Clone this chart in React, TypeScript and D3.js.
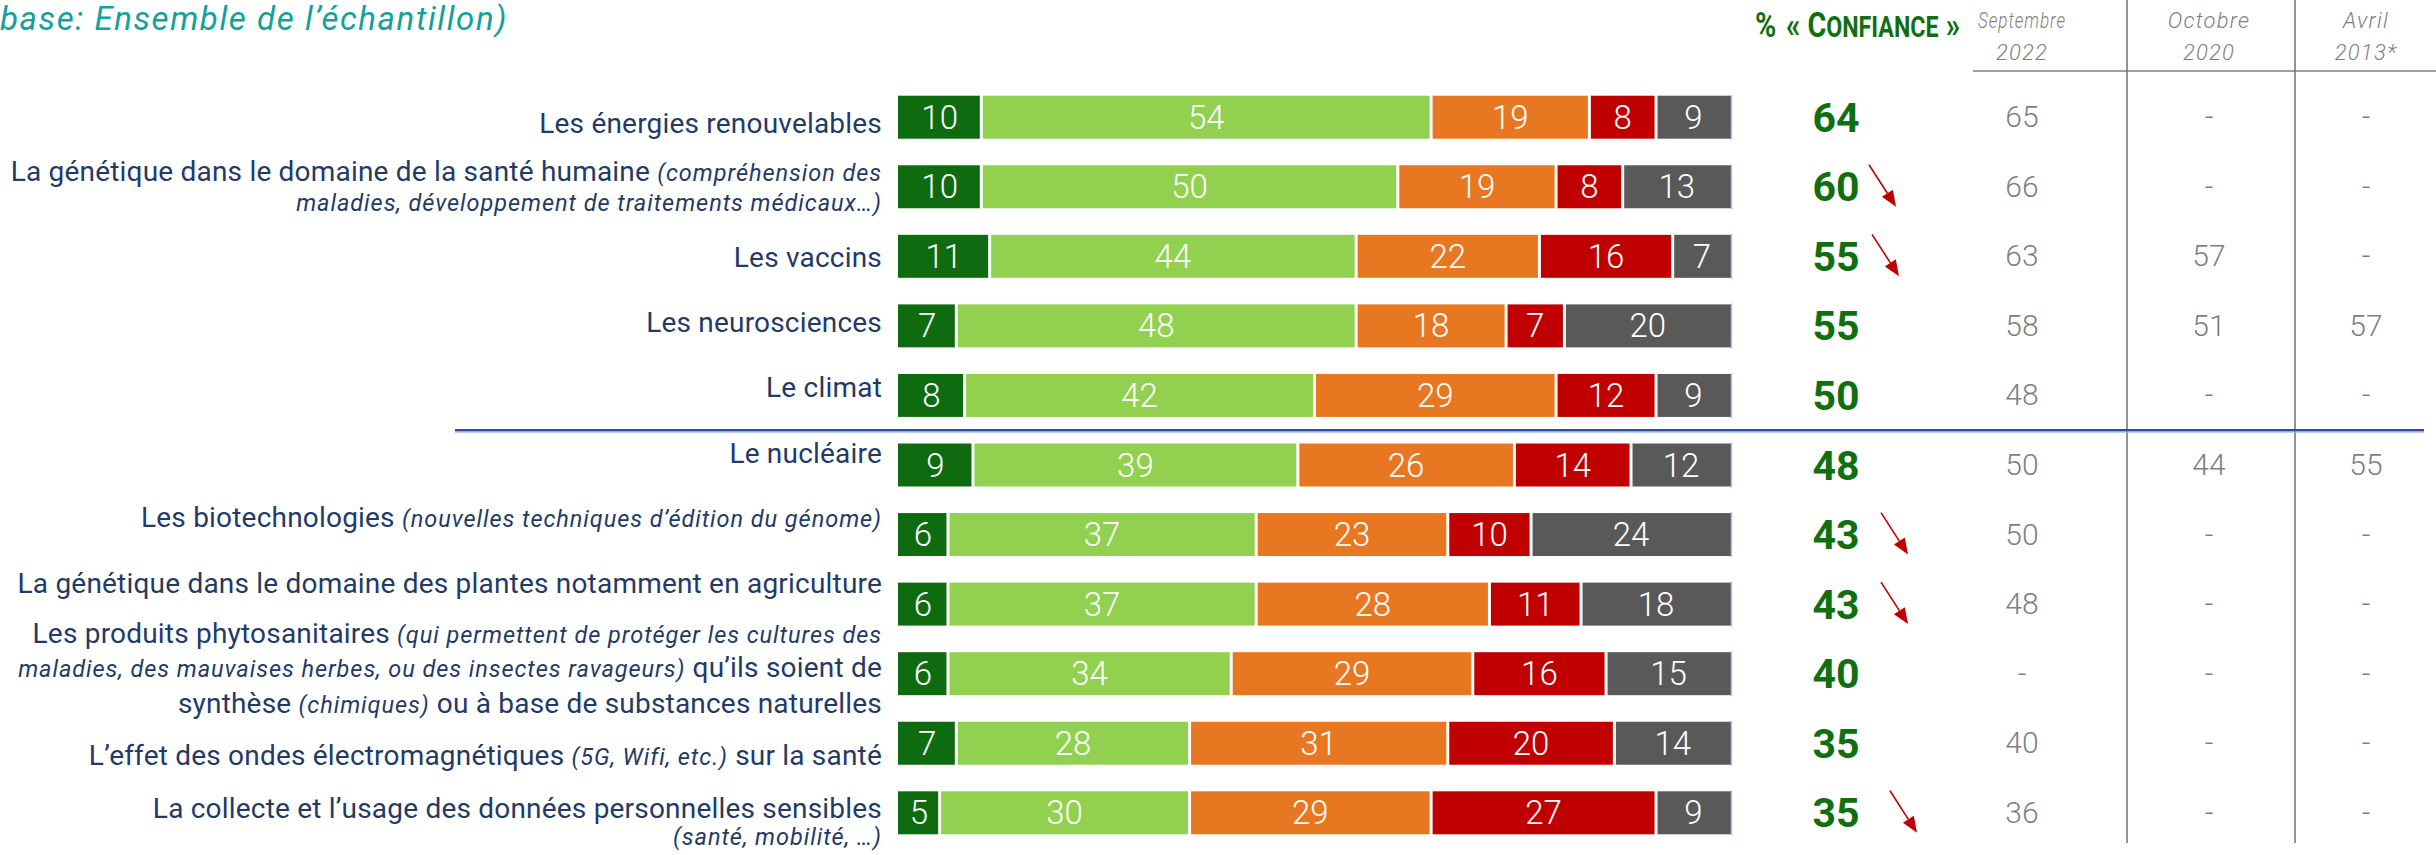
import React from "react";
import * as d3 from "d3";

// ---------- DATA ----------
const categories = [
  "Les énergies renouvelables",
  "La génétique dans le domaine de la santé humaine",
  "Les vaccins",
  "Les neurosciences",
  "Le climat",
  "Le nucléaire",
  "Les biotechnologies",
  "La génétique dans le domaine des plantes",
  "Les produits phytosanitaires",
  "L’effet des ondes électromagnétiques",
  "La collecte et l’usage des données personnelles sensibles",
];

// label lines: each line is a list of [text, italic]
const labelLines: Array<Array<Array<[string, boolean]>>> = [
  [[["Les énergies renouvelables", false]]],
  [
    [["La génétique dans le domaine de la santé humaine ", false], ["(compréhension des", true]],
    [["maladies, développement de traitements médicaux…)", true]],
  ],
  [[["Les vaccins", false]]],
  [[["Les neurosciences", false]]],
  [[["Le climat", false]]],
  [[["Le nucléaire", false]]],
  [[["Les biotechnologies ", false], ["(nouvelles techniques d’édition du génome)", true]]],
  [[["La génétique dans le domaine des plantes notamment en agriculture", false]]],
  [
    [["Les produits phytosanitaires ", false], ["(qui permettent de protéger les cultures des", true]],
    [["maladies, des mauvaises herbes, ou des insectes ravageurs)", true], [" qu’ils soient de", false]],
    [["synthèse ", false], ["(chimiques)", true], [" ou à base de substances naturelles", false]],
  ],
  [[["L’effet des ondes électromagnétiques ", false], ["(5G, Wifi, etc.)", true], [" sur la santé", false]]],
  [
    [["La collecte et l’usage des données personnelles sensibles", false]],
    [["(santé, mobilité, …)", true]],
  ],
];

const tresConfiance = [10, 10, 11, 7, 8, 9, 6, 6, 6, 7, 5];
const plutotConfiance = [54, 50, 44, 48, 42, 39, 37, 37, 34, 28, 30];
const plutotPasConfiance = [19, 19, 22, 18, 29, 26, 23, 28, 29, 31, 29];
const pasDuTout = [8, 8, 16, 7, 12, 14, 10, 11, 16, 20, 27];
const nsp = [9, 13, 7, 20, 9, 12, 24, 18, 15, 14, 9];

const confiance = [64, 60, 55, 55, 50, 48, 43, 43, 40, 35, 35];
const baisse = [false, true, true, false, false, false, true, true, false, false, true];

const sept2022: (number | null)[] = [65, 66, 63, 58, 48, 50, 50, 48, null, 40, 36];
const oct2020: (number | null)[] = [null, null, 57, 51, null, 44, null, null, null, null, null];
const avr2013: (number | null)[] = [null, null, null, 57, null, 55, null, null, null, null, null];

const seriesKeys = ["tres", "plutot", "plutotPas", "pasDuTout", "nsp"];
const historyHeaders = [
  ["Septembre", "2022"],
  ["Octobre", "2020"],
  ["Avril", "2013*"],
];

// ---------- STYLE / LAYOUT ----------
const W = 2436;
const H = 855;
const colors = ["#0f6b10", "#92d050", "#e87722", "#c00000", "#595959"];
const navy = "#243a66";
const green = "#107010";
const grey = "#7f7f7f";
const FONT = "Roboto, 'Noto Sans', sans-serif";
// baseline offsets of label lines relative to row centre
const labelOffsets = [
  [15.5],
  [-6, 24.5],
  [11],
  [6],
  [1.5],
  [-2],
  [-8],
  [-11],
  [-31, 3, 39],
  [22],
  [5.5, 32],
];
// small horizontal shifts of the trend arrows
const arrowShift = [0, -9, -6, 0, 0, 0, 3, 3, 0, 0, 12];
const historyX = [2022, 2209, 2366];
const headerWidth = [88, 0, 0];
const dividerX = [2127, 2295];

export default function App() {
  const idx = categories.map((_, i) => i);
  const rows = idx.map((i) => ({
    tres: tresConfiance[i],
    plutot: plutotConfiance[i],
    plutotPas: plutotPasConfiance[i],
    pasDuTout: pasDuTout[i],
    nsp: nsp[i],
  }));
  const stacked = d3.stack<any>().keys(seriesKeys)(rows);

  const x = d3.scaleLinear().domain([0, 100]).range([898, 1731]);
  const step = 69.56;
  const y = d3
    .scaleBand<number>()
    .domain(idx)
    .range([117.2 - step / 2, 117.2 - step / 2 + step * idx.length])
    .paddingInner(0.382)
    .paddingOuter(0.191);
  const bw = y.bandwidth();
  const cy = (i: number) => (y(i) as number) + bw / 2;
  const sepY = (cy(4) + cy(5)) / 2;

  const histories = [sept2022, oct2020, avr2013];

  return (
    <svg
      width={W}
      height={H}
      style={{ position: "absolute", left: 0, top: 0, background: "#fff" }}
      fontFamily={FONT}
    >
      {/* title */}
      <text
        x={508}
        y={30}
        textAnchor="end"
        fontSize={33}
        fontStyle="italic"
        fill="#12a19b"
        letterSpacing={1.6}
      >
        (base: Ensemble de l’échantillon)
      </text>

      {/* header */}
      <text transform="translate(1755,37) scale(0.8,1)" fill={green} fontWeight={700}>
        <tspan fontSize={36}>%</tspan>
        <tspan fontSize={36} dx={12}>« C</tspan>
        <tspan fontSize={29}>ONFIANCE</tspan>
        <tspan fontSize={36}> »</tspan>
      </text>
      {historyHeaders.map((h, k) => (
        <g key={k} fill={grey} fontSize={22} fontStyle="italic" fontWeight={300} letterSpacing={1.2} textAnchor="middle">
          <text
            x={historyX[k]}
            y={28}
            {...(headerWidth[k] ? { textLength: headerWidth[k], lengthAdjust: "spacingAndGlyphs" } : {})}
          >
            {h[0]}
          </text>
          <text x={historyX[k]} y={60}>{h[1]}</text>
        </g>
      ))}
      <line x1={1973} x2={W} y1={71} y2={71} stroke={grey} strokeWidth={1.5} />
      {dividerX.map((dx) => (
        <line key={dx} x1={dx} x2={dx} y1={0} y2={843} stroke="#6f6f6f" strokeWidth={1.5} />
      ))}

      {/* separator */}
      <line x1={455} x2={2424} y1={sepY} y2={sepY} stroke="#2f4a9e" strokeWidth={2.5} />
      <line x1={455} x2={2424} y1={sepY + 2} y2={sepY + 2} stroke="#a8bbe6" strokeWidth={1} />

      {/* labels */}
      {labelLines.map((lines, i) =>
        lines.map((parts, l) => (
          <text
            key={`${i}-${l}`}
            x={882}
            y={cy(i) + labelOffsets[i][l]}
            textAnchor="end"
            fill={navy}
          >
            {parts.map(([t, it], p) => (
              <tspan
                key={p}
                fontSize={it ? 23.5 : 28}
                fontStyle={it ? "italic" : "normal"}
                letterSpacing={it ? 0.95 : 0.2}
              >
                {t}
              </tspan>
            ))}
          </text>
        ))
      )}

      {/* bars */}
      {stacked.map((s, k) => (
        <g key={s.key} fill={colors[k]}>
          {s.map((d, i) => {
            const x0 = x(d[0]);
            const x1 = x(d[1]);
            return (
              <g key={i}>
                <rect
                  x={x0 + (k === 0 ? 0 : 1.5)}
                  y={y(i) as number}
                  width={x1 - x0 - (k === 0 ? 1.5 : k === 4 ? 1.5 : 3)}
                  height={bw}
                />
                <text
                  x={(x0 + x1) / 2}
                  y={cy(i) + 11.5}
                  textAnchor="middle"
                  fill="#fff"
                  fontSize={33}
                  fontWeight={300}
                >
                  {d[1] - d[0]}
                </text>
              </g>
            );
          })}
        </g>
      ))}
      {idx.map((i) => (
        <line
          key={`edge${i}`}
          x1={x(100) + 0.5}
          x2={x(100) + 0.5}
          y1={(y(i) as number) - 1}
          y2={(y(i) as number) + bw + 1}
          stroke="#a9c4eb"
          strokeWidth={1.5}
        />
      ))}

      {/* confidence */}
      {confiance.map((v, i) => (
        <text
          key={`c${i}`}
          x={1836}
          y={cy(i) + 14.5}
          textAnchor="middle"
          fill={green}
          fontSize={41}
          fontWeight={700}
        >
          {v}
        </text>
      ))}

      {/* arrows */}
      {baisse.map((b, i) => {
        if (!b) return null;
        const sx = 1878 + arrowShift[i];
        const sy = cy(i) - 22;
        const tx = 1905 + arrowShift[i];
        const ty = cy(i) + 20;
        const ang = Math.atan2(ty - sy, tx - sx);
        const L = 16;
        const hw = 6.5;
        const bx = tx - L * Math.cos(ang);
        const by = ty - L * Math.sin(ang);
        const px = -Math.sin(ang) * hw;
        const py = Math.cos(ang) * hw;
        return (
          <g key={`a${i}`}>
            <line x1={sx} y1={sy} x2={bx} y2={by} stroke="#c00000" strokeWidth={1.6} />
            <polygon
              points={`${tx},${ty} ${bx + px},${by + py} ${bx - px},${by - py}`}
              fill="#c00000"
            />
          </g>
        );
      })}

      {/* history table */}
      {histories.map((col, k) =>
        col.map((v, i) => (
          <text
            key={`h${k}-${i}`}
            x={historyX[k]}
            y={cy(i) + 10}
            textAnchor="middle"
            fill={grey}
            fontSize={30}
            fontWeight={300}
          >
            {v === null ? "-" : v}
          </text>
        ))
      )}
    </svg>
  );
}
